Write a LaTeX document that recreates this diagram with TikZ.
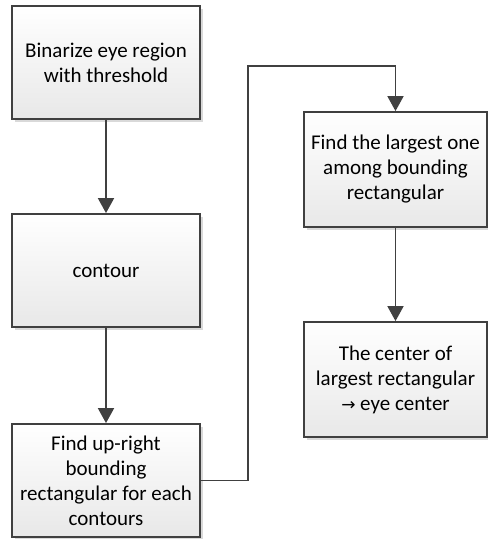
\documentclass[tikz,border=0pt]{standalone}
\usepackage{fontspec}
\setmainfont{Carlito}
\newfontfamily\symfont{DejaVu Sans}
\usetikzlibrary{arrows.meta,shadows}
\definecolor{edge}{HTML}{404040}
\begin{document}
\begin{tikzpicture}[x=1pt,y=-1pt,
  stepbox/.style={draw=edge, line width=1.8pt, top color=white, bottom color=black!9,
    align=center, inner sep=2pt, font=\fontsize{21}{25}\selectfont,
    drop shadow={shadow xshift=2.5pt, shadow yshift=-2.5pt, opacity=0.25, fill=black!60}},
  flow/.style={draw=edge, line width=1.8pt, -{Triangle[width=16pt,length=15pt]}}]
  \useasboundingbox (0,0) rectangle (488,539);
  \node[stepbox, minimum width=188pt, minimum height=113pt] (b1) at (106,62.5)
    {Binarize eye region\\with threshold};
  \node[stepbox, minimum width=188pt, minimum height=113pt] (b2) at (106,270.5)
    {contour};
  \node[stepbox, minimum width=188pt, minimum height=113pt] (b3) at (106,480.5)
    {Find up-right\\bounding\\rectangular for each\\contours};
  \node[stepbox, minimum width=183pt, minimum height=115pt] (b4) at (395.5,169.5)
    {Find the largest one\\among bounding\\rectangular};
  \node[stepbox, minimum width=183pt, minimum height=115pt] (b5) at (395.5,379.5)
    {The center of\\largest rectangular\\{\symfont\fontsize{17}{25}\selectfont →} eye center};
  \coordinate (turn) at (248,66);
  \draw[flow] (b1) -- (b2);
  \draw[flow] (b2) -- (b3);
  \draw[flow] (b3.east) -| (turn) -| (b4.north);
  \draw[flow] (b4) -- (b5);
\end{tikzpicture}
\end{document}
